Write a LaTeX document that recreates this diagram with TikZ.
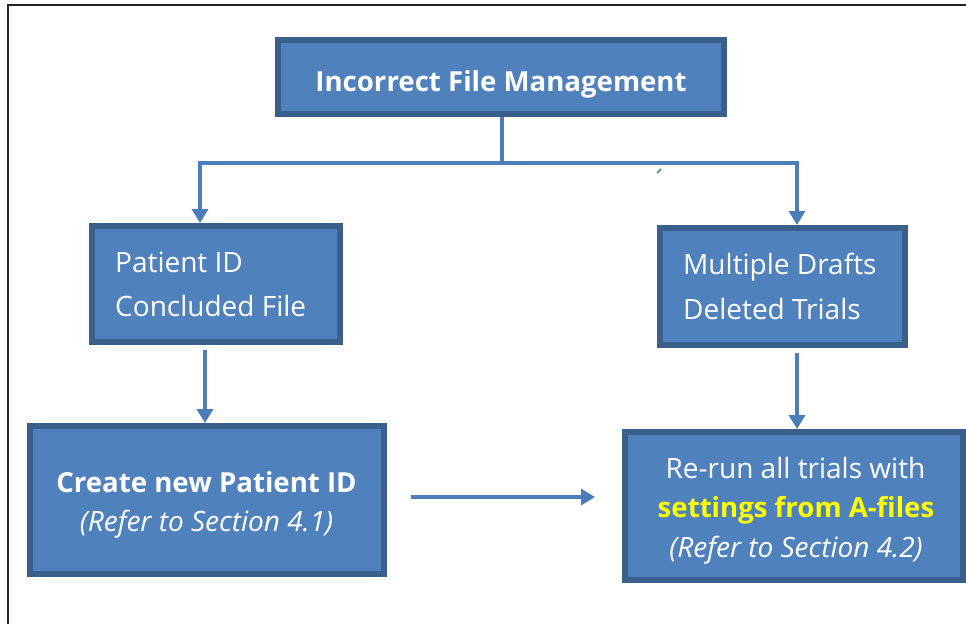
\documentclass[tikz,border=0pt]{standalone}
\usepackage{fontspec}
\setmainfont{Open Sans}
\usetikzlibrary{arrows.meta}

\definecolor{boxfill}{HTML}{4F81BD}
\definecolor{boxedge}{HTML}{3A5F8B}
\definecolor{linkblue}{HTML}{4A7EBB}
\definecolor{hilite}{HTML}{FFFF00}

\tikzset{
  stepbox/.style={draw=boxedge, fill=boxfill, line width=6pt, inner sep=0pt},
  boxtext/.style={text=white, inner sep=0pt, anchor=base,
    font=\fontsize{28}{40}\selectfont},
  boldtext/.style={boxtext, font=\fontsize{27.6}{40}\selectfont\bfseries},
  slanttext/.style={boxtext, font=\fontsize{28}{40}\selectfont\itshape},
  conn/.style={draw=linkblue, line width=3.5pt,
    -{Triangle[width=16pt,length=14pt]}},
  plainlink/.style={draw=linkblue, line width=3.5pt},
  frame/.style={draw=black!85, line width=2.5pt}
}

\begin{document}
\begin{tikzpicture}[x=1pt, y=-1pt]
  \useasboundingbox (0,0) rectangle (966,624);
  \fill[white] (0,0) rectangle (966,624);

  % outer frame (top and left edges)
  \draw[frame] (966,5) -- (8,5) -- (8,624);

  % boxes
  \node[stepbox, minimum width=446pt, minimum height=74pt] (top) at (501,77) {};
  \node[stepbox, minimum width=248pt, minimum height=116pt] (pid) at (216,284) {};
  \node[stepbox, minimum width=245pt, minimum height=117pt] (drafts) at (782.5,286.5) {};
  \node[stepbox, minimum width=354pt, minimum height=148pt] (newid) at (207,500) {};
  \node[stepbox, minimum width=338pt, minimum height=148pt] (rerun) at (794,506) {};

  % box texts
  \node[boldtext] (topT) at (501,91) {Incorrect File Management};
  \node[boxtext, anchor=base west] (pidA) at (115,272) {Patient ID};
  \node[boxtext, anchor=base west] (pidB) at (115,316) {Concluded File};
  \node[boxtext, anchor=base west] (drA) at (683,274) {Multiple Drafts};
  \node[boxtext, anchor=base west] (drB) at (683,319) {Deleted Trials};
  \node[boldtext] (newA) at (206.5,492) {Create new Patient ID};
  \node[slanttext] (newB) at (206.5,531) {(Refer to Section 4.1)};
  \node[boxtext] (reA) at (795.5,478) {Re-run all trials with};
  \node[boldtext, text=hilite] (reB) at (796,517) {settings from A-files};
  \node[slanttext] (reC) at (796,557) {(Refer to Section 4.2)};

  % branch points
  \coordinate (split) at (502,163);
  \coordinate (leftx) at (200,163);
  \coordinate (rightx) at (797,163);
  \coordinate (downl) at (205,0);
  \coordinate (downr) at (797,0);
  \coordinate (midy) at (0,497);

  % connectors
  \draw[plainlink] (top.south -| split) -- (split);
  \draw[plainlink, line cap=rect] (leftx) -- (rightx);
  \draw[conn] (leftx) -- (leftx |- pid.north);
  \draw[conn] (rightx) -- (rightx |- drafts.north);
  \draw[conn, shorten <=5pt] (pid.south -| downl) -- (newid.north -| downl);
  \draw[conn, shorten <=5pt] (drafts.south -| downr) -- (rerun.north -| downr);
  \draw[conn, shorten <=24pt, shorten >=27pt] (newid.east |- midy) -- (rerun.west |- midy);

  % small stray stroke below the branch line
  \draw[linkblue, line width=1.5pt] (657,173) -- (661,169);
\end{tikzpicture}
\end{document}
